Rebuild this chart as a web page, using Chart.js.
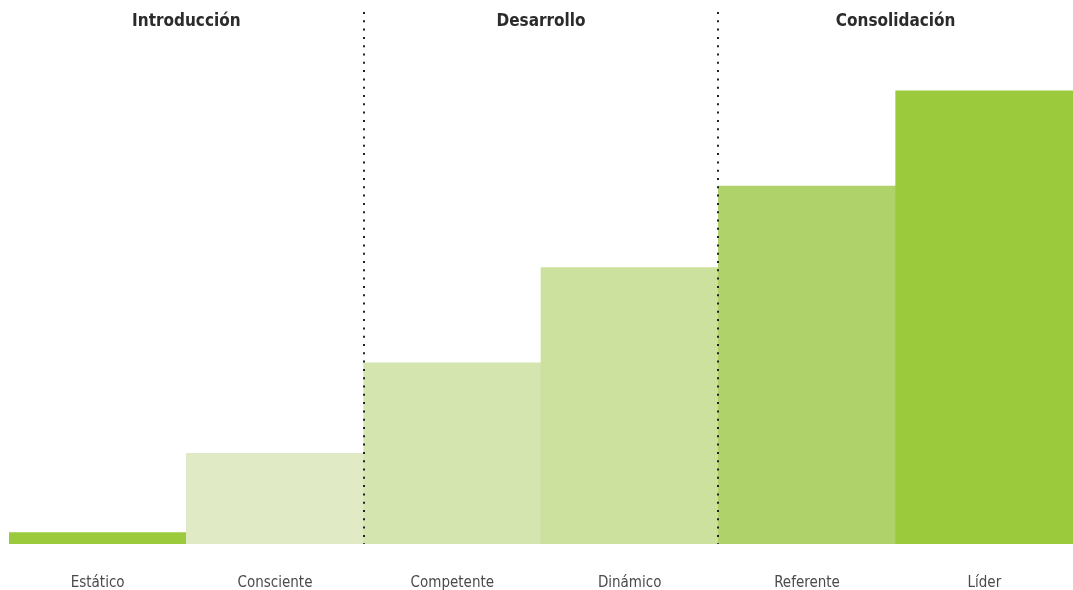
<!DOCTYPE html>
<html>
<head>
<meta charset="utf-8">
<script src="https://cdn.jsdelivr.net/npm/chart.js@4"></script>
<style>
  html, body { margin: 0; padding: 0; background: #fff; }
  #wrap { width: 1073px; height: 590px; }
</style>
</head>
<body>
<div id="wrap"><canvas id="stagesChart"></canvas></div>
<script>
// Stage data
const categories = ['Estático', 'Consciente', 'Competente', 'Dinámico', 'Referente', 'Líder'];
const values = [2.5, 20, 40, 61, 79, 100];
const barColors = ['#9bcb3c', '#e0ebc6', '#d4e5b0', '#cbe19d', '#afd26a', '#9bcb3c'];
const phases = ['Introducción', 'Desarrollo', 'Consolidación'];

const FONT = "'DejaVu Sans', sans-serif";

// dotted separators + phase titles over each pair of bars
const phasePlugin = {
  id: 'phases',
  afterDatasetsDraw(chart) {
    const { ctx, chartArea, scales } = chart;
    const x = scales.x;
    ctx.save();
    ctx.strokeStyle = '#222';
    ctx.lineWidth = 2;
    ctx.setLineDash([2, 6.3]);
    for (let i = 1; i < phases.length; i++) {
      const px = Math.round((x.getPixelForValue(i * 2 - 1) + x.getPixelForValue(i * 2)) / 2);
      ctx.beginPath();
      ctx.moveTo(px, chartArea.top);
      ctx.lineTo(px, chartArea.bottom);
      ctx.stroke();
    }
    ctx.setLineDash([]);
    ctx.fillStyle = '#2b2b2b';
    ctx.font = 'condensed 600 17px ' + FONT;
    ctx.textAlign = 'center';
    ctx.textBaseline = 'middle';
    phases.forEach((p, i) => {
      const cx = (x.getPixelForValue(i * 2) + x.getPixelForValue(i * 2 + 1)) / 2;
      ctx.fillText(p, cx, 22);
    });
    ctx.restore();
  }
};

new Chart(document.getElementById('stagesChart'), {
  type: 'bar',
  data: {
    labels: categories,
    datasets: [{
      data: values,
      backgroundColor: barColors,
      borderWidth: 0,
      barPercentage: 1,
      categoryPercentage: 1
    }]
  },
  options: {
    responsive: true,
    maintainAspectRatio: false,
    animation: false,
    layout: { padding: { left: 9, top: 12, right: 0, bottom: 0 } },
    scales: {
      x: {
        grid: { display: false, drawTicks: false },
        border: { display: false },
        afterFit: (s) => { s.height = 46; },
        ticks: {
          padding: 30,
          color: '#4a4a4a',
          font: { family: FONT, size: 15, weight: 'condensed' }
        }
      },
      y: {
        display: false,
        min: 0,
        max: 117.4
      }
    },
    plugins: {
      legend: { display: false },
      tooltip: { enabled: false }
    }
  },
  plugins: [phasePlugin]
});
</script>
</body>
</html>
